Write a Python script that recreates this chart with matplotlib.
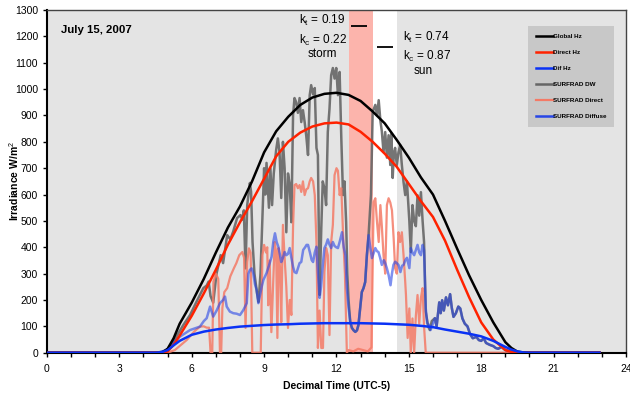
import matplotlib
matplotlib.use('Agg')
import matplotlib.pyplot as plt
from matplotlib.ticker import MultipleLocator

plt.rcParams['font.family'] = ['Liberation Sans', 'DejaVu Sans']
plt.rcParams['mathtext.fontset'] = 'custom'
plt.rcParams['mathtext.rm'] = 'Liberation Sans'
plt.rcParams['mathtext.it'] = 'Liberation Sans'

# model curves (decimal hour, W/m2)
model_t = [0, 4.5, 4.75, 5.0, 5.25, 5.5, 6.0, 6.5, 7.0, 7.5, 8.0, 8.5, 9.0, 9.5, 10.0, 10.5,
           11.0, 11.5, 12.0, 12.5, 13.0, 13.5, 14.0, 14.5, 15.0, 15.5, 16.0, 16.5, 17.0,
           17.5, 18.0, 18.5, 19.0, 19.25, 19.5, 19.75, 20.0, 22.9]
global_hz = [0, 0, 0, 15, 55, 110, 190, 280, 380, 475, 555, 650, 760, 840, 895, 940,
             968, 982, 986, 978, 955, 915, 870, 807, 740, 665, 600, 500, 395,
             293, 200, 115, 40, 18, 4, 1, 0, 0]
direct_hz = [0, 0, 0, 5, 30, 65, 140, 225, 315, 410, 495, 575, 660, 745, 800, 835,
             858, 870, 873, 866, 838, 800, 755, 705, 640, 575, 515, 425, 315,
             210, 115, 50, 10, 3, 0, 0, 0, 0]
dif_hz = [0, 0, 2, 10, 28, 45, 68, 80, 88, 94, 99, 102, 105, 107, 108, 110,
          111, 112, 112, 112, 112, 111, 110, 108, 106, 102, 97, 88, 80,
          72, 62, 45, 22, 12, 5, 1, 0, 0]

# SURFRAD global downwelling
dw_t = [0, 4.5, 4.9, 5.1, 5.4, 5.65, 5.93, 6.2, 6.48, 6.62, 6.7, 6.78, 6.89, 7.03, 7.2, 7.3,
        7.47, 7.6, 7.72, 7.88, 8.02, 8.1, 8.16, 8.23, 8.3, 8.41, 8.46, 8.52, 8.6, 8.7, 8.77,
        8.85, 9.0, 9.05, 9.1, 9.2, 9.26, 9.33, 9.4, 9.5, 9.57, 9.64, 9.71, 9.78, 9.85, 9.92,
        9.99, 10.06, 10.13, 10.2, 10.26, 10.33, 10.4, 10.47, 10.54, 10.61, 10.68, 10.75,
        10.82, 10.89, 10.95, 11.03, 11.1, 11.17, 11.23, 11.3, 11.37, 11.43, 11.5, 11.57,
        11.64, 11.71, 11.78, 11.85, 11.92, 11.99, 12.06, 12.13, 12.2, 12.27, 12.33, 12.4,
        12.45, 12.5, 12.57, 12.64, 12.71, 12.78, 12.85, 12.91, 12.98, 13.05, 13.12, 13.19,
        13.26, 13.33, 13.43, 13.5, 13.61, 13.68, 13.75, 13.82, 13.88, 13.95, 14.02, 14.09,
        14.16, 14.23, 14.27, 14.33, 14.38, 14.43, 14.5, 14.57, 14.64, 14.71, 14.78, 14.85,
        14.92, 14.98, 15.02, 15.08, 15.15, 15.22, 15.29, 15.36, 15.43, 15.5, 15.57, 15.63,
        15.7, 15.8, 15.87, 15.95, 16.08, 16.15, 16.26, 16.32, 16.38, 16.45, 16.54, 16.62,
        16.71, 16.78, 16.85, 16.95, 17.05, 17.13, 17.22, 17.32, 17.43, 17.54, 17.65, 17.8,
        17.9, 18.0, 18.1, 18.2, 18.35, 18.5, 18.6, 18.7, 18.85, 19.0, 19.2, 19.4, 22.9]
dw_v = [0, 0, 5, 20, 67, 105, 143, 194, 245, 255, 270, 215, 190, 301, 370, 340,
        446, 430, 460, 511, 522, 505, 540, 320, 560, 644, 610, 420, 300, 230, 192,
        300, 700, 600, 720, 550, 700, 560, 680, 770, 813, 760, 587, 800, 700, 457,
        680, 640, 495, 901, 966, 950, 910, 966, 875, 920, 875, 820,
        750, 977, 1015, 980, 1004, 777, 750, 219, 473, 650, 624, 560,
        837, 925, 1053, 1080, 1040, 1080, 977, 1065, 813, 598, 650, 495,
        300, 200, 117, 94, 85, 79, 85, 105, 168, 230, 245, 268,
        370, 446, 600, 913, 940, 900, 958, 880, 840, 761, 837, 740,
        825, 712, 830, 663, 760, 777, 712, 760, 788, 712, 647, 598,
        650, 560, 500, 382, 560, 500, 480, 597, 520, 609, 500, 420,
        155, 100, 86, 120, 131, 100, 191, 150, 199, 160, 210, 180,
        222, 170, 136, 150, 175, 168, 130, 110, 100, 70, 55, 60,
        48, 45, 55, 37, 30, 25, 18, 15, 22, 10, 5, 0, 0]

# SURFRAD direct (horizontal)
dir_t = [0, 5.0, 5.3, 5.79, 6.1, 6.34, 6.5, 6.62, 6.72, 6.78, 6.85, 6.9, 7.0, 7.1, 7.17,
         7.22, 7.27, 7.35, 7.47, 7.6, 7.75, 7.85, 7.97, 8.1, 8.17, 8.23, 8.3, 8.37, 8.44,
         8.51, 8.86, 8.93, 9.0, 9.08, 9.13, 9.17, 9.23, 9.3, 9.37, 9.44, 9.5, 9.55, 9.6,
         9.66, 9.71, 9.78, 9.85, 9.92, 9.99, 10.06, 10.13, 10.2, 10.26, 10.33, 10.4, 10.47,
         10.54, 10.61, 10.68, 10.75, 10.82, 10.89, 10.95, 11.03, 11.1, 11.17, 11.23, 11.3,
         11.37, 11.44, 11.5, 11.57, 11.64, 11.71, 11.78, 11.85, 11.92, 12.0, 12.06, 12.13,
         12.2, 12.28, 12.35, 12.43, 12.5, 12.7, 12.9, 13.1, 13.3, 13.45, 13.54, 13.61,
         13.68, 13.75, 13.82, 13.88, 13.95, 14.02, 14.09, 14.16, 14.23, 14.3, 14.37, 14.43,
         14.5, 14.57, 14.64, 14.71, 14.78, 14.85, 14.88, 14.95, 15.02, 15.08, 15.15, 15.22,
         15.29, 15.36, 15.43, 15.5, 15.57, 15.63, 15.7, 22.9]
dir_v = [0, 0, 10, 48, 80, 99, 100, 95, 95, 0, 0, 270, 300, 280, 0,
         0, 170, 230, 245, 290, 321, 340, 370, 382, 360, 94, 344, 396, 380,
         0, 0, 370, 409, 380, 400, 180, 350, 78, 250, 420, 380, 56, 397,
         320, 116, 485, 360, 250, 94, 200, 143, 480, 636, 640, 624, 636,
         610, 650, 598, 620, 624, 650, 663, 650, 598, 420, 18, 160,
         18, 18, 306, 397, 370, 67, 420, 485, 674, 700, 690, 598,
         624, 434, 300, 0, 10, 5, 15, 10, 5, 20, 571, 586,
         495, 420, 560, 480, 370, 300, 560, 586, 570, 540, 434, 321,
         300, 457, 420, 457, 370, 268, 219, 56, 168, 0, 130, 0,
         140, 219, 110, 208, 245, 100, 0, 0]

# SURFRAD diffuse
dif_t = [0, 4.6, 4.96, 5.2, 5.51, 5.93, 6.34, 6.5, 6.62, 6.76, 6.89, 7.03, 7.17, 7.3, 7.38,
         7.45, 7.58, 7.72, 7.86, 8.0, 8.14, 8.28, 8.35, 8.41, 8.48, 8.55, 8.62, 8.69, 8.76,
         8.83, 8.9, 8.97, 9.1, 9.2, 9.31, 9.38, 9.45, 9.52, 9.59, 9.66, 9.71, 9.78, 9.85,
         9.92, 9.99, 10.06, 10.13, 10.2, 10.26, 10.34, 10.4, 10.47, 10.54, 10.62, 10.7,
         10.76, 10.82, 10.9, 10.97, 11.03, 11.1, 11.17, 11.23, 11.3, 11.36, 11.43, 11.5,
         11.57, 11.64, 11.71, 11.78, 11.85, 11.92, 11.99, 12.06, 12.13, 12.2, 12.23, 12.3,
         12.37, 12.43, 12.5, 12.57, 12.64, 12.71, 12.78, 12.85, 12.91, 12.98, 13.05, 13.12,
         13.19, 13.26, 13.33, 13.4, 13.47, 13.54, 13.61, 13.68, 13.74, 13.81, 13.88, 13.96,
         14.02, 14.09, 14.16, 14.24, 14.3, 14.36, 14.43, 14.5, 14.57, 14.65, 14.72, 14.78,
         14.85, 14.92, 15.02, 15.08, 15.15, 15.22, 15.29, 15.36, 15.43, 15.5, 15.57, 15.63,
         15.7, 15.76, 15.84, 15.9, 16.08, 16.15, 16.26, 16.32, 16.38, 16.45, 16.54, 16.62,
         16.71, 16.78, 16.85, 16.95, 17.05, 17.13, 17.22, 17.32, 17.43, 17.54, 17.65, 17.8,
         17.9, 18.0, 18.1, 18.2, 18.35, 18.5, 18.6, 18.7, 18.85, 19.0, 19.2, 19.4, 22.9]
dif_v = [0, 0, 10, 35, 61, 86, 99, 120, 131, 175, 137, 160, 188, 200, 213,
         175, 156, 150, 148, 143, 162, 188, 300, 314, 320, 302, 260, 238, 188,
         220, 250, 276, 302, 330, 364, 420, 453, 420, 402, 370, 344, 360, 382,
         370, 375, 397, 360, 326, 306, 302, 320, 340, 344, 390, 400,
         409, 409, 380, 352, 344, 380, 402, 306, 208, 250, 330, 397,
         410, 430, 410, 397, 420, 405, 400, 397, 420, 446, 457, 400,
         370, 245, 170, 117, 94, 85, 79, 85, 105, 168, 230, 245,
         268, 370, 446, 400, 359, 378, 397, 385, 382, 360, 333, 351,
         340, 320, 295, 256, 300, 333, 345, 340, 333, 306, 330, 333,
         350, 360, 321, 397, 380, 370, 390, 409, 380, 370, 409, 389,
         168, 112, 105, 86, 131, 100, 191, 150, 199, 160, 210, 180,
         222, 170, 136, 150, 175, 168, 130, 110, 100, 70, 55, 60,
         48, 45, 55, 37, 30, 25, 18, 15, 22, 10, 5, 0, 0]

fig = plt.figure(figsize=(6.3, 3.96), dpi=100)
ax = fig.add_axes([0.0746, 0.1093, 0.919, 0.8654])
ax.set_facecolor('#e4e4e4')

ax.axvspan(12.5, 13.5, color='#fcb4ac', zorder=0.5, lw=0)
ax.axvspan(13.5, 14.5, color='white', zorder=0.5, lw=0)

ax.plot(model_t, global_hz, color='black', lw=1.8, label='Global Hz', zorder=5)
ax.plot(model_t, direct_hz, color='#ff2200', lw=1.8, label='Direct Hz', zorder=5)
ax.plot(model_t, dif_hz, color='#0a32f5', lw=1.8, label='Dif Hz', zorder=5)
ax.plot(dw_t, dw_v, color='#666666', lw=1.8, alpha=0.9, label='SURFRAD DW', zorder=2)
ax.plot(dir_t, dir_v, color='#f47a66', lw=1.6, alpha=0.85, label='SURFRAD Direct', zorder=3)
ax.plot(dif_t, dif_v, color='#2846e6', lw=1.8, alpha=0.6, label='SURFRAD Diffuse', zorder=4)

# storm / sun markers
ax.hlines(1240, 12.59, 13.25, color='black', lw=1.3)
ax.hlines(1160, 13.7, 14.35, color='black', lw=1.3)

ax.text(0.58, 1224, 'July 15, 2007', fontsize=8.2, fontweight='bold', va='center')
ax.text(10.45, 1262, r'k$_t$ = 0.19', fontsize=8.5, va='center')
ax.text(10.45, 1186, r'k$_c$ = 0.22', fontsize=8.5, va='center')
ax.text(10.8, 1133, 'storm', fontsize=8.5, va='center')
ax.text(14.77, 1197, r'k$_t$ = 0.74', fontsize=8.5, va='center')
ax.text(14.77, 1125, r'k$_c$ = 0.87', fontsize=8.5, va='center')
ax.text(15.2, 1069, 'sun', fontsize=8.5, va='center')

ax.set_xlim(0, 24)
ax.set_ylim(0, 1300)
ax.xaxis.set_major_locator(MultipleLocator(3))
ax.xaxis.set_minor_locator(MultipleLocator(1))
ax.yaxis.set_major_locator(MultipleLocator(100))
ax.tick_params(axis='both', which='both', direction='out', length=3, width=1,
               labelsize=7.5, colors='black')
ax.tick_params(axis='x', pad=5)

for s in ['left', 'bottom']:
    ax.spines[s].set_linewidth(1.5)
for s in ['top', 'right']:
    ax.spines[s].set_linewidth(1)
    ax.spines[s].set_color('#444444')

ax.set_xlabel('Decimal Time (UTC-5)', fontsize=7.5, fontweight='bold')
ax.set_ylabel('Irradiance W/m$^2$', fontsize=7.5, fontweight='bold')
ax.xaxis.set_label_coords(0.5, -0.085)
ax.yaxis.set_label_coords(-0.057, 0.5)
ax.yaxis.label.set_va('center')
ax.xaxis.label.set_va('center')
ax.xaxis.set_label_coords(0.5, -0.097)

leg = ax.legend(loc='upper left', bbox_to_anchor=(0.831, 0.953),
                prop={'weight': 'bold', 'size': 4.5}, facecolor='#c8c8c8',
                edgecolor='none', framealpha=1, fancybox=False, handlelength=2.8,
                handletextpad=0.0, labelspacing=1.7, borderpad=1.2, borderaxespad=0)
for h in leg.get_lines():
    h.set_alpha(1)

fig.savefig('out.png', dpi=100)
